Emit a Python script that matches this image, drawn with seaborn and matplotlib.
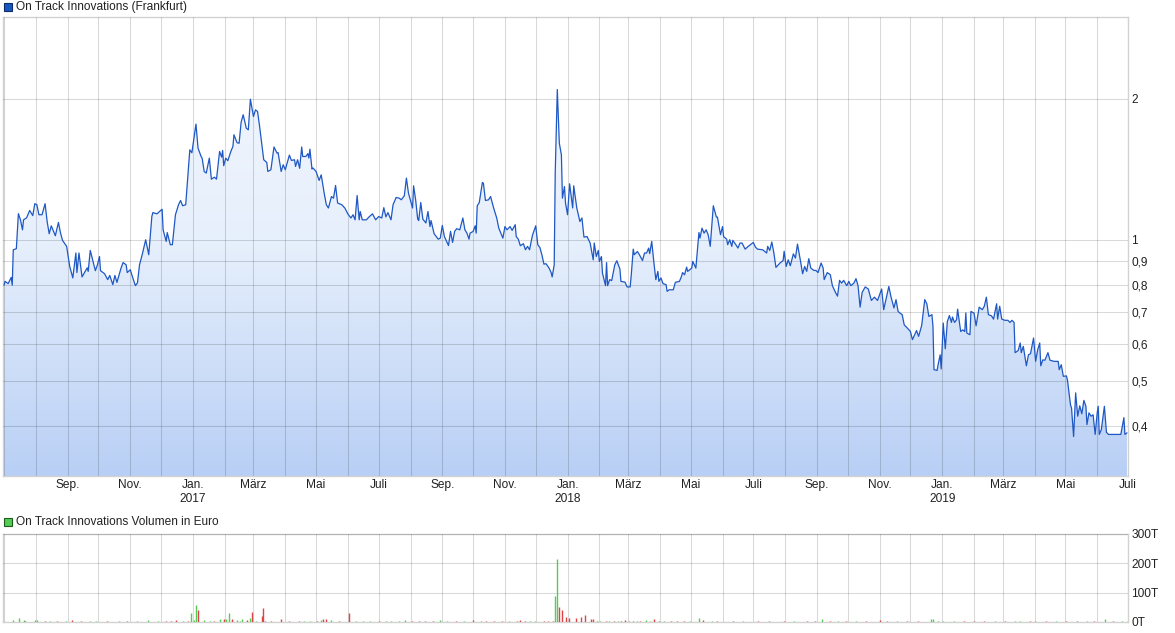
import numpy as np
import pandas as pd
import seaborn as sns
import matplotlib.pyplot as plt
import matplotlib.dates as mdates
from matplotlib.patches import Rectangle
from matplotlib.colors import LinearSegmentedColormap
from matplotlib.ticker import NullLocator

# Stil setzen (font erst nach set_style)
sns.set_style("white")
plt.rcParams['font.family'] = ['Liberation Sans', 'DejaVu Sans']
plt.rcParams['font.size'] = 8.6

# Daten: Tage seit 01.07.2016 und Kurs in Euro
start = pd.Timestamp("2016-07-01")

price_day = [0, 1, 4, 7, 8, 9, 12, 14, 16, 18,
             19, 22, 25, 28, 30, 32, 34, 37, 40, 42,
             44, 46, 50, 53, 55, 57, 61, 64, 67, 70,
             71, 73, 76, 81, 82, 84, 89, 91, 93, 94,
             98, 101, 103, 106, 108, 110, 114, 116, 119, 120,
             123, 125, 128, 130, 132, 135, 138, 141, 144, 145,
             149, 154, 155, 158, 159, 162, 164, 167, 170, 172,
             174, 177, 181, 183, 187, 189, 192, 193, 195, 197,
             200, 202, 205, 207, 210, 212, 213, 214, 216, 218,
             221, 223, 224, 227, 229, 231, 233, 236, 238, 240,
             243, 245, 247, 249, 252, 253, 256, 257, 260, 263,
             266, 267, 270, 272, 274, 278, 280, 283, 284, 286,
             288, 290, 291, 294, 296, 297, 298, 300, 301, 304,
             307, 309, 312, 314, 316, 319, 321, 323, 325, 329,
             332, 335, 338, 340, 342, 344, 346, 347, 349, 353,
             356, 359, 362, 365, 368, 370, 372, 374, 377, 379,
             382, 385, 387, 390, 392, 394, 398, 399, 401, 403,
             404, 406, 408, 411, 413, 415, 416, 419, 423, 425,
             427, 429, 433, 435, 437, 439, 441, 444, 447, 449,
             451, 453, 454, 457, 459, 460, 461, 463, 466, 467,
             469, 472, 474, 477, 480, 482, 486, 488, 490, 493,
             495, 498, 499, 501, 503, 506, 508, 510, 512, 514,
             515, 518, 520, 522, 524, 526, 528, 531, 533, 534,
             536, 537, 539, 541, 543, 544, 546, 547, 549, 551,
             554, 555, 558, 561, 563, 565, 568, 571, 574, 575,
             577, 579, 580, 582, 583, 586, 587, 588, 590, 592,
             595, 597, 600, 601, 605, 607, 610, 611, 613, 614,
             617, 619, 622, 624, 626, 628, 629, 631, 633, 635,
             637, 638, 640, 642, 645, 646, 648, 652, 654, 658,
             660, 661, 663, 665, 666, 670, 671, 674, 675, 677,
             678, 680, 682, 684, 686, 688, 691, 694, 695, 698,
             700, 701, 704, 705, 707, 709, 710, 713, 715, 717,
             719, 722, 725, 730, 732, 734, 739, 743, 744, 746,
             748, 750, 752, 756, 759, 760, 762, 764, 766, 769,
             771, 773, 776, 778, 780, 782, 784, 786, 789, 791,
             793, 796, 798, 799, 802, 805, 807, 810, 812, 814,
             816, 818, 821, 823, 825, 828, 830, 832, 834, 836,
             839, 842, 845, 848, 851, 855, 857, 859, 862, 864,
             867, 869, 871, 873, 875, 877, 880, 883, 885, 889,
             891, 894, 897, 899, 901, 904, 905, 906, 909, 910,
             912, 913, 915, 917, 919, 921, 923, 924, 926, 928,
             929, 932, 934, 936, 937, 938, 941, 942, 945, 947,
             950, 953, 955, 957, 959, 962, 964, 967, 968, 970,
             972, 975, 978, 980, 982, 984, 985, 988, 990, 991,
             993, 996, 998, 1000, 1003, 1005, 1007, 1009, 1010, 1012,
             1014, 1017, 1019, 1023, 1027, 1028, 1030, 1032, 1035, 1036,
             1039, 1040, 1042, 1044, 1046, 1048, 1050, 1052, 1054, 1055,
             1057, 1059, 1061, 1063, 1065, 1066, 1067, 1069, 1072, 1074,
             1076, 1080, 1088, 1091, 1092, 1094]

price_eur = [0.80, 0.815, 0.806, 0.831, 0.80, 0.952, 0.957, 1.137, 1.103, 1.05,
             1.103, 1.114, 1.155, 1.126, 1.194, 1.188, 1.131, 1.131, 1.194, 1.094,
             1.030, 1.071, 1.020, 1.089, 1.035, 0.997, 0.968, 0.877, 0.829, 0.937,
             0.851, 0.937, 0.833, 0.871, 0.856, 0.949, 0.859, 0.884, 0.921, 0.859,
             0.846, 0.822, 0.839, 0.802, 0.839, 0.811, 0.870, 0.894, 0.884, 0.851,
             0.863, 0.835, 0.798, 0.809, 0.884, 0.937, 1.0, 0.929, 1.121, 1.143,
             1.136, 1.162, 1.050, 0.992, 1.036, 0.976, 0.976, 1.131, 1.188, 1.213,
             1.182, 1.188, 1.556, 1.534, 1.766, 1.569, 1.506, 1.494, 1.399, 1.388,
             1.494, 1.347, 1.360, 1.347, 1.544, 1.501, 1.551, 1.439, 1.494, 1.475,
             1.544, 1.583, 1.676, 1.612, 1.607, 1.783, 1.849, 1.731, 1.717, 1.996,
             1.833, 1.894, 1.878, 1.745, 1.544, 1.482, 1.462, 1.399, 1.411, 1.578,
             1.531, 1.535, 1.399, 1.446, 1.411, 1.516, 1.477, 1.482, 1.434, 1.482,
             1.421, 1.578, 1.506, 1.506, 1.527, 1.494, 1.561, 1.416, 1.423, 1.399,
             1.339, 1.376, 1.254, 1.188, 1.169, 1.237, 1.227, 1.306, 1.198, 1.188,
             1.169, 1.135, 1.113, 1.131, 1.103, 1.243, 1.103, 1.149, 1.103, 1.103,
             1.121, 1.136, 1.103, 1.121, 1.113, 1.171, 1.119, 1.143, 1.103, 1.188,
             1.231, 1.227, 1.217, 1.242, 1.354, 1.258, 1.169, 1.304, 1.217, 1.107,
             1.099, 1.201, 1.107, 1.086, 1.149, 1.067, 1.099, 1.030, 1.003, 1.008,
             1.073, 1.016, 0.972, 1.042, 0.987, 1.042, 1.056, 1.050, 1.113, 1.050,
             1.033, 1.003, 1.033, 1.042, 1.071, 1.033, 1.182, 1.201, 1.325, 1.321,
             1.213, 1.217, 1.237, 1.169, 1.113, 1.059, 1.008, 1.067, 1.050, 1.067,
             1.047, 1.077, 1.016, 1.003, 0.971, 0.981, 0.952, 0.968, 0.952, 1.003,
             1.025, 1.071, 0.976, 0.963, 0.929, 0.887, 0.889, 0.870, 0.851, 0.833,
             0.884, 1.390, 2.093, 1.607, 1.518, 1.227, 1.299, 1.198, 1.131, 1.317,
             1.169, 1.304, 1.169, 1.094, 1.113, 1.013, 1.016, 0.984, 0.906, 0.984,
             0.921, 0.949, 0.899, 0.921, 0.849, 0.798, 0.894, 0.798, 0.822, 0.818,
             0.884, 0.902, 0.866, 0.815, 0.812, 0.793, 0.793, 0.838, 0.955, 0.929,
             0.944, 0.929, 0.903, 0.937, 0.937, 0.960, 0.934, 0.992, 0.899, 0.822,
             0.856, 0.815, 0.829, 0.806, 0.802, 0.776, 0.782, 0.782, 0.811, 0.815,
             0.835, 0.851, 0.842, 0.874, 0.856, 0.870, 0.899, 0.870, 0.921, 1.036,
             1.008, 1.059, 1.033, 1.050, 1.025, 0.968, 1.182, 1.118, 1.118, 1.025,
             1.067, 1.016, 1.003, 0.976, 1.0, 0.968, 0.997, 0.976, 0.960, 0.984,
             0.984, 0.955, 0.968, 0.987, 0.965, 0.955, 0.952, 0.937, 0.968, 0.949,
             0.989, 0.937, 0.873, 0.892, 0.903, 0.945, 0.877, 0.906, 0.880, 0.933,
             0.914, 0.979, 0.899, 0.846, 0.877, 0.856, 0.911, 0.870, 0.860, 0.860,
             0.851, 0.892, 0.870, 0.822, 0.851, 0.842, 0.798, 0.772, 0.758, 0.819,
             0.808, 0.819, 0.798, 0.815, 0.798, 0.808, 0.826, 0.798, 0.718, 0.772,
             0.793, 0.785, 0.742, 0.754, 0.742, 0.785, 0.709, 0.742, 0.795, 0.757,
             0.715, 0.745, 0.703, 0.697, 0.692, 0.658, 0.648, 0.637, 0.612, 0.640,
             0.622, 0.656, 0.745, 0.730, 0.686, 0.692, 0.653, 0.528, 0.526, 0.541,
             0.568, 0.530, 0.664, 0.585, 0.669, 0.689, 0.666, 0.684, 0.666, 0.675,
             0.711, 0.637, 0.642, 0.637, 0.698, 0.632, 0.627, 0.703, 0.697, 0.655,
             0.718, 0.709, 0.721, 0.754, 0.692, 0.688, 0.677, 0.730, 0.677, 0.721,
             0.677, 0.673, 0.673, 0.666, 0.673, 0.666, 0.574, 0.580, 0.602, 0.574,
             0.592, 0.538, 0.568, 0.571, 0.617, 0.550, 0.582, 0.602, 0.538, 0.554,
             0.553, 0.574, 0.553, 0.550, 0.550, 0.528, 0.541, 0.511, 0.512, 0.502,
             0.444, 0.437, 0.380, 0.471, 0.420, 0.442, 0.425, 0.454, 0.441, 0.403,
             0.427, 0.420, 0.423, 0.384, 0.427, 0.441, 0.384, 0.393, 0.441, 0.388,
             0.384, 0.384, 0.384, 0.417, 0.384, 0.387]

# Volumen in Tausend Euro, 1 = gruen (steigend), 0 = rot (fallend)
vol_day = [9, 15, 19, 20, 30, 32, 40, 45, 52, 60,
           66, 75, 84, 90, 100, 112, 120, 130, 140, 150,
           158, 163, 168, 174, 179, 182, 185, 187, 189, 195,
           201, 205, 210, 214, 216, 219, 222, 227, 230, 232,
           237, 240, 242, 245, 251, 252, 254, 260, 270, 278,
           287, 292, 298, 305, 309, 311, 314, 319, 326, 336,
           343, 350, 357, 365, 372, 377, 385, 391, 397, 404,
           410, 418, 425, 432, 440, 448, 457, 465, 470, 477,
           485, 492, 500, 503, 508, 512, 517, 526, 530, 535,
           537, 539, 541, 544, 547, 550, 557, 562, 566, 572,
           574, 578, 581, 586, 589, 594, 598, 601, 605, 609,
           613, 617, 620, 625, 629, 633, 638, 643, 650, 656,
           662, 668, 677, 681, 690, 695, 710, 720, 735, 745,
           760, 770, 782, 790, 797, 805, 812, 820, 830, 840,
           853, 860, 870, 880, 890, 903, 905, 910, 915, 925,
           935, 945, 955, 965, 975, 985, 990, 1000, 1004, 1015,
           1025, 1035, 1045, 1055, 1062, 1073, 1080, 1089, 1095]

vol_teur = [7, 14, 6, 3, 7, 6, 4, 3, 3, 2,
            7, 3, 4, 3, 2, 3, 2, 3, 7, 3,
            5, 3, 7, 5, 5, 30, 6, 59, 41, 6,
            5, 3, 10, 10, 9, 30, 9, 7, 3, 11,
            8, 14, 35, 3, 21, 48, 5, 3, 9, 3,
            4, 3, 4, 2, 7, 9, 10, 7, 3, 31,
            4, 2, 3, 2, 3, 4, 3, 6, 2, 3,
            4, 2, 6, 3, 2, 3, 6, 3, 2, 4,
            3, 2, 4, 8, 3, 2, 4, 4, 3, 4,
            90, 215, 50, 40, 17, 14, 15, 18, 24, 9,
            10, 4, 3, 5, 3, 4, 3, 3, 7, 3,
            4, 3, 3, 7, 4, 9, 3, 3, 3, 4,
            3, 2, 15, 7, 3, 4, 3, 2, 3, 2,
            3, 2, 3, 2, 11, 3, 2, 3, 2, 3,
            7, 3, 2, 3, 2, 11, 9, 4, 3, 3,
            2, 5, 3, 2, 3, 2, 5, 3, 5, 3,
            2, 3, 3, 2, 3, 10, 2, 4, 2]

vol_up = [1, 1, 1, 0, 1, 1, 0, 1, 0, 1,
          0, 0, 1, 1, 0, 1, 0, 1, 1, 1,
          0, 0, 0, 1, 0, 1, 1, 1, 0, 1,
          1, 0, 1, 0, 1, 1, 0, 1, 1, 1,
          0, 1, 0, 1, 0, 0, 0, 0, 0, 0,
          0, 1, 1, 0, 1, 0, 0, 1, 0, 0,
          1, 1, 1, 0, 1, 1, 1, 1, 0, 0,
          0, 0, 1, 1, 0, 1, 0, 1, 0, 0,
          0, 1, 0, 0, 0, 1, 1, 0, 0, 0,
          1, 1, 0, 0, 0, 0, 0, 0, 0, 0,
          0, 0, 1, 0, 1, 0, 1, 0, 0, 1,
          0, 1, 0, 1, 1, 0, 0, 1, 0, 0,
          0, 1, 1, 0, 1, 0, 0, 1, 0, 0,
          0, 1, 0, 0, 1, 0, 1, 0, 1, 0,
          0, 0, 1, 0, 0, 1, 1, 1, 1, 1,
          0, 0, 0, 1, 0, 1, 1, 0, 1, 0,
          1, 0, 0, 1, 0, 1, 0, 1, 0]

price_ticks = [0.4, 0.5, 0.6, 0.7, 0.8, 0.9, 1, 2]
price_labels = ["0,4", "0,5", "0,6", "0,7", "0,8", "0,9", "1", "2"]
vol_ticks = [0, 100, 200, 300]
vol_labels = ["0T", "100T", "200T", "300T"]
month_names = {1: "Jan.", 3: "März", 5: "Mai", 7: "Juli", 9: "Sep.", 11: "Nov."}

assert len(price_day) == len(price_eur)
assert len(vol_day) == len(vol_teur) == len(vol_up)

kurs = pd.DataFrame({"datum": start + pd.to_timedelta(price_day, unit="D"),
                     "kurs": price_eur})
volumen = pd.DataFrame({"datum": start + pd.to_timedelta(vol_day, unit="D"),
                        "teur": vol_teur, "up": vol_up})

W, H = 1175, 633
fig = plt.figure(figsize=(W / 100, H / 100), dpi=100)
ax = fig.add_axes([3 / W, 1 - 476 / H, 1125 / W, 459 / H])
axv = fig.add_axes([3 / W, 1 - 622 / H, 1125 / W, 88 / H])

x_min = start - pd.Timedelta(days=1)
x_max = start + pd.Timedelta(days=1095)
rand_col = "#d2d2d2"

# Kurschart
ax.set_yscale("log")
poly = ax.fill_between(kurs["datum"], kurs["kurs"], 0.05, color="none", lw=0)
verlauf = np.linspace(0, 1, 256).reshape(-1, 1)
cmap = LinearSegmentedColormap.from_list("blau", ["#f4f8fe", "#e6effc", "#b8cff5"])
im = ax.imshow(verlauf, extent=[0, 1, 0, 1], transform=ax.transAxes, aspect="auto",
               cmap=cmap, origin="upper", zorder=1, interpolation="bilinear")
im.set_clip_path(poly.get_paths()[0], transform=ax.transData)
sns.lineplot(data=kurs, x="datum", y="kurs", ax=ax, color="#1f58c4", linewidth=0.9,
             zorder=3, estimator=None)
ax.set_xlim(x_min, x_max)
ax.set_ylim(0.313, 2.99)
ax.set_xlabel("")
ax.set_ylabel("")

ax.yaxis.tick_right()
ax.set_yticks(price_ticks)
ax.set_yticklabels(price_labels)
ax.yaxis.set_minor_locator(NullLocator())


def monat_label(x, pos=None):
    d = mdates.num2date(x)
    if d.month not in month_names or (d.year == 2016 and d.month < 8):
        return ""
    text = month_names[d.month]
    if d.month == 1:
        text += "\n" + str(d.year)
    return text


for a in (ax, axv):
    a.xaxis.set_major_locator(mdates.MonthLocator())
    a.set_axisbelow(False)
    a.grid(True, which="major", color="black", alpha=0.15, lw=0.75, zorder=2)
    a.tick_params(axis="both", length=0, pad=2.5, labelsize=8.6, colors="#222222")
    for s in a.spines.values():
        s.set_color(rand_col)
        s.set_linewidth(1.0)

ax.xaxis.set_major_formatter(monat_label)

# Volumen
farben = ["#55cc55" if u else "#dd4444" for u in volumen["up"]]
axv.vlines(volumen["datum"], 0, volumen["teur"], colors=farben, lw=1.0, zorder=3)
axv.set_xlim(x_min, x_max)
axv.set_ylim(0, 300)
axv.yaxis.tick_right()
axv.set_yticks(vol_ticks)
axv.set_yticklabels(vol_labels)
axv.xaxis.set_major_formatter(lambda x, pos: "")

# Legenden oben links
fig.add_artist(Rectangle((4 / W, 1 - 11 / H), 8 / W, 8 / H, transform=fig.transFigure,
                         facecolor="#1a56c0", edgecolor="#0c2c66", lw=0.8))
fig.text(16 / W, 1 - 7 / H, "On Track Innovations (Frankfurt)", va="center",
         ha="left", fontsize=8.6, color="#222222")
fig.add_artist(Rectangle((4 / W, 1 - 526 / H), 8 / W, 8 / H, transform=fig.transFigure,
                         facecolor="#55cc55", edgecolor="#1d5e1d", lw=0.8))
fig.text(16 / W, 1 - 522 / H, "On Track Innovations Volumen in Euro", va="center",
         ha="left", fontsize=8.6, color="#222222")

fig.savefig("out.png", dpi=100)
